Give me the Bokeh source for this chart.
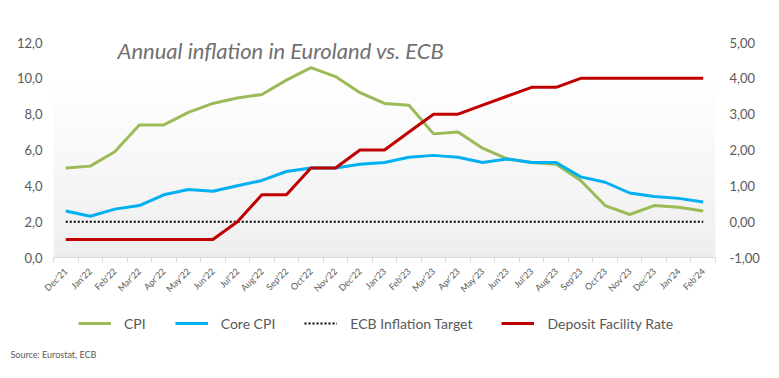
from bokeh.plotting import figure
from bokeh.layouts import column
from bokeh.models import (Range1d, LinearAxis, FixedTicker, Legend, LegendItem,
                          Label, BoxAnnotation, Title)
from bokeh.embed import file_html
from bokeh.resources import INLINE

months = ["Dec'21", "Jan'22", "Feb'22", "Mar'22", "Apr'22", "May'22", "Jun'22",
          "Jul'22", "Aug'22", "Sep'22", "Oct'22", "Nov'22", "Dec'22", "Jan'23",
          "Feb'23", "Mar'23", "Apr'23", "May'23", "Jun'23", "Jul'23", "Aug'23",
          "Sep'23", "Oct'23", "Nov'23", "Dec'23", "Jan'24", "Feb'24"]
cpi = [5.0, 5.1, 5.9, 7.4, 7.4, 8.1, 8.6, 8.9, 9.1, 9.9, 10.6, 10.1, 9.2, 8.6,
       8.5, 6.9, 7.0, 6.1, 5.5, 5.3, 5.2, 4.3, 2.9, 2.4, 2.9, 2.8, 2.6]
core_cpi = [2.6, 2.3, 2.7, 2.9, 3.5, 3.8, 3.7, 4.0, 4.3, 4.8, 5.0, 5.0, 5.2, 5.3,
            5.6, 5.7, 5.6, 5.3, 5.5, 5.3, 5.3, 4.5, 4.2, 3.6, 3.4, 3.3, 3.1]
ecb_target = [2.0, 2.0, 2.0, 2.0, 2.0, 2.0, 2.0, 2.0, 2.0, 2.0, 2.0, 2.0, 2.0, 2.0,
              2.0, 2.0, 2.0, 2.0, 2.0, 2.0, 2.0, 2.0, 2.0, 2.0, 2.0, 2.0, 2.0]
deposit_rate = [-0.5, -0.5, -0.5, -0.5, -0.5, -0.5, -0.5, 0.0, 0.75, 0.75, 1.5, 1.5,
                2.0, 2.0, 2.5, 3.0, 3.0, 3.25, 3.5, 3.75, 3.75, 4.0, 4.0, 4.0, 4.0,
                4.0, 4.0]
left_ticks = [0, 2, 4, 6, 8, 10, 12]
left_labels = ["0,0", "2,0", "4,0", "6,0", "8,0", "10,0", "12,0"]
right_ticks = [-1, 0, 1, 2, 3, 4, 5]
right_labels = ["-1,00", "0,00", "1,00", "2,00", "3,00", "4,00", "5,00"]
series_names = ["CPI", "Core CPI", "ECB Inflation Target", "Deposit Facility Rate"]
series_colors = ["#9BBB59", "#00B0F0", "black", "#C00000"]

x = list(range(len(months)))
FONT = "Lato"
TXT = "#595959"
W = 775

p = figure(width=W, height=305, output_backend="svg", toolbar_location=None,
           x_range=Range1d(-0.5, len(months) - 0.5), y_range=Range1d(0, 12),
           min_border_left=53, min_border_right=60, min_border_top=42,
           min_border_bottom=48)
p.extra_y_ranges = {"rate": Range1d(-1, 5)}
p.outline_line_color = None
p.xgrid.visible = False
p.ygrid.visible = False
p.background_fill_color = "white"
p.border_fill_color = "white"

# subtle vertical gradient of the plot area
nb = 40
for i in range(nb):
    y0 = 10.0 * i / nb
    y1 = 10.0 * (i + 1) / nb
    t = 1 - (i + 0.5) / nb
    c = int(round(255 - 17 * t))
    p.add_layout(BoxAnnotation(bottom=y0, top=y1, fill_color=(c, c, c),
                               fill_alpha=1, line_color=None, level="underlay"))

# axes
p.yaxis.ticker = FixedTicker(ticks=left_ticks)
p.yaxis.major_label_overrides = dict(zip(left_ticks, left_labels))
ax_r = LinearAxis(y_range_name="rate", ticker=FixedTicker(ticks=right_ticks),
                  major_label_overrides=dict(zip(right_ticks, right_labels)))
p.add_layout(ax_r, "right")
for ax in (p.yaxis[0], ax_r):
    ax.axis_line_color = None
    ax.major_tick_line_color = None
    ax.minor_tick_line_color = None
    ax.major_label_text_font = FONT
    ax.major_label_text_font_size = "13px"
    ax.major_label_text_color = TXT
p.yaxis[0].major_label_standoff = 5
ax_r.major_label_standoff = 8

xa = p.xaxis[0]
xa.ticker = FixedTicker(ticks=x, minor_ticks=[i - 0.5 for i in range(len(months) + 1)])
xa.major_label_overrides = dict(zip(x, months))
xa.major_label_orientation = 0.785
xa.axis_line_color = "#d9d9d9"
xa.major_tick_line_color = None
xa.minor_tick_line_color = "#d9d9d9"
xa.minor_tick_out = 5
xa.minor_tick_in = 0
xa.major_label_text_font = FONT
xa.major_label_text_font_size = "9px"
xa.major_label_text_color = TXT
xa.major_label_standoff = 6

p.line(x, cpi, line_color=series_colors[0], line_width=3)
p.line(x, core_cpi, line_color=series_colors[1], line_width=3)
p.line(x, ecb_target, line_color=series_colors[2], line_width=2, line_dash="2 2")
p.line(x, deposit_rate, line_color=series_colors[3], line_width=3,
       y_range_name="rate")

p.add_layout(Label(x=64, y=207, x_units="screen", y_units="screen",
                   text="Annual inflation in Euroland vs. ECB", text_font=FONT,
                   text_font_style="italic", text_font_size="22px",
                   text_color="#707070", text_baseline="alphabetic"))

# legend / source strip (frame aligned with the chart above)
H2 = 69
q = figure(width=W, height=H2, output_backend="svg", toolbar_location=None,
           x_range=Range1d(0, 1), y_range=Range1d(0, 1),
           min_border_left=53, min_border_right=60, min_border_top=0,
           min_border_bottom=28, x_axis_location=None, y_axis_location=None)
q.outline_line_color = None
q.xgrid.visible = False
q.ygrid.visible = False
q.border_fill_color = "white"
items = []
nan = float("nan")
for i, (nm, col) in enumerate(zip(series_names, series_colors)):
    kw = dict(line_color=col, line_width=2 if i == 2 else 3)
    if i == 2:
        kw["line_dash"] = "2 2"
    r = q.line(x=[nan], y=[nan], **kw)
    items.append(LegendItem(label=nm, renderers=[r]))
legend = Legend(items=items, orientation="horizontal", location=(25, 13),
                margin=0, padding=0, glyph_width=33, label_standoff=13,
                spacing=29, label_text_font=FONT, label_text_font_size="14px",
                label_text_color=TXT, border_line_color=None,
                background_fill_alpha=0)
q.add_layout(legend)
q.add_layout(Title(text="Source: Eurostat, ECB", align="left", offset=-43,
                   text_font=FONT, text_font_size="9px", text_color=TXT,
                   text_font_style="normal", standoff=0), "below")

open("out.html", "w").write(file_html(column(p, q, spacing=0), INLINE))
